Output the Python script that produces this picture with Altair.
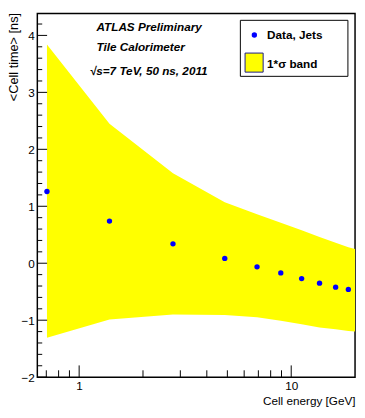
import altair as alt
import pandas as pd

# ---- data ----
energy = [0.705, 1.39, 2.77, 4.86, 6.9, 8.93, 11.2, 13.6, 16.2, 18.6]
time_mean = [1.26, 0.74, 0.34, 0.085, -0.063, -0.17, -0.27, -0.35, -0.42, -0.46]

band_energy = [0.705, 1.39, 2.77, 4.86, 6.9, 8.93, 11.2, 13.6, 16.2, 18.6, 20.0]
band_hi = [3.84, 2.45, 1.58, 1.07, 0.86, 0.71, 0.58, 0.46, 0.36, 0.28, 0.25]
band_lo = [-1.31, -0.99, -0.90, -0.91, -0.95, -1.01, -1.07, -1.13, -1.16, -1.19, -1.20]

y_major = [-2, -1, 0, 1, 2, 3, 4]
y_minor = [-1.8, -1.6, -1.4, -1.2, -0.8, -0.6, -0.4, -0.2, 0.2, 0.4, 0.6, 0.8,
           1.2, 1.4, 1.6, 1.8, 2.2, 2.4, 2.6, 2.8, 3.2, 3.4, 3.6, 3.8, 4.2]
x_major = [1, 10]
x_minor = [0.7, 0.8, 0.9, 2, 3, 4, 5, 6, 7, 8, 9]

annotations = ["ATLAS Preliminary", "Tile Calorimeter", "\u221as=7 TeV, 50 ns, 2011"]
legend_labels = ["Data, Jets", "1*\u03c3 band"]

W, H = 325, 372
FONT = "Liberation Sans"

xscale = alt.Scale(type="log", domain=[0.635, 20], nice=False)
yscale = alt.Scale(domain=[-2, 4.385], nice=False, zero=False)

xaxis = alt.Axis(
    values=x_major, format="~g", ticks=False, tickSize=0, domain=False, grid=False,
    labelFont=FONT, labelFontSize=12, labelColor="black", labelPadding=4,
    title="Cell energy [GeV]", titleFont=FONT, titleFontSize=12, titleFontWeight="normal",
    titleColor="black", titleAnchor="end", titleAlign="right", titleX=W, titleY=27.5,
    titleBaseline="alphabetic")
yaxis = alt.Axis(
    values=y_major, ticks=False, tickSize=0, domain=False, grid=False,
    labelFont=FONT, labelFontSize=12, labelColor="black", labelPadding=3,
    title="<Cell time> [ns]", titleFont=FONT, titleFontSize=13, titleFontWeight="normal",
    titleColor="black", titleAngle=270, titleAnchor="end", titleAlign="right",
    titleX=-20, titleY=-1, titleBaseline="alphabetic")

pts_df = pd.DataFrame({"e": energy, "t": time_mean})
band_df = pd.DataFrame({"e": band_energy, "hi": band_hi, "lo": band_lo})
one = pd.DataFrame({"k": [0]})


def X(f):
    return alt.X(f, scale=xscale, axis=xaxis)


def Y(f):
    return alt.Y(f, scale=yscale, axis=yaxis)


band = alt.Chart(band_df).mark_area(color="#ffff00", clip=True, interpolate="linear").encode(
    x=X("e:Q"), y=Y("hi:Q"), y2="lo:Q")

points = alt.Chart(pts_df).mark_circle(size=30, color="#0000ff", opacity=1).encode(
    x=X("e:Q"), y=Y("t:Q"))

ymaj = alt.Chart(pd.DataFrame({"v": y_major})).mark_rule(color="black").encode(
    y=Y("v:Q"), x=alt.value(0), x2=alt.value(10))
ymin = alt.Chart(pd.DataFrame({"v": y_minor})).mark_rule(color="black").encode(
    y=Y("v:Q"), x=alt.value(0), x2=alt.value(5))
xmaj = alt.Chart(pd.DataFrame({"v": x_major})).mark_rule(color="black").encode(
    x=X("v:Q"), y=alt.value(H), y2=alt.value(H - 12))
xmin = alt.Chart(pd.DataFrame({"v": x_minor})).mark_rule(color="black").encode(
    x=X("v:Q"), y=alt.value(H), y2=alt.value(H - 7))

txt_kw = dict(align="left", baseline="alphabetic", font=FONT, fontSize=12,
              fontWeight="bold", fontStyle="italic", color="black")
ann1 = alt.Chart(one).mark_text(**txt_kw).encode(
    x=alt.value(60.5), y=alt.value(17.7), text=alt.value(annotations[0]))
ann2 = alt.Chart(one).mark_text(**txt_kw).encode(
    x=alt.value(60.5), y=alt.value(38.7), text=alt.value(annotations[1]))
ann3 = alt.Chart(one).mark_text(**txt_kw).encode(
    x=alt.value(53.7), y=alt.value(62.7), text=alt.value(annotations[2]))

# legend box
leg_box = alt.Chart(one).mark_rect(fill="white", stroke="black", strokeWidth=1).encode(
    x=alt.value(207.7), x2=alt.value(317.7), y=alt.value(7), y2=alt.value(64.3))
leg_dot = alt.Chart(one).mark_circle(size=30, color="#0000ff", opacity=1).encode(
    x=alt.value(222), y=alt.value(22))
leg_sq = alt.Chart(one).mark_rect(fill="#ffff00", stroke="#1a1a8c", strokeWidth=1).encode(
    x=alt.value(212.5), x2=alt.value(231), y=alt.value(40.5), y2=alt.value(60))
leg_kw = dict(align="left", baseline="alphabetic", font=FONT, fontSize=12,
              fontWeight="bold", color="black")
leg_t1 = alt.Chart(one).mark_text(**leg_kw).encode(
    x=alt.value(235), y=alt.value(26), text=alt.value(legend_labels[0]))
leg_t2 = alt.Chart(one).mark_text(**leg_kw).encode(
    x=alt.value(235), y=alt.value(55.5), text=alt.value(legend_labels[1]))

chart = alt.layer(
    band, points, ymaj, ymin, xmaj, xmin, ann1, ann2, ann3,
    leg_box, leg_dot, leg_sq, leg_t1, leg_t2,
).properties(
    width=W, height=H, autosize="none",
    padding={"left": 30, "top": 1, "right": 2, "bottom": 29},
    background="white",
).configure_view(stroke="black", strokeWidth=1.5)

chart.save("out.html", embed_options={"renderer": "svg", "actions": False})
